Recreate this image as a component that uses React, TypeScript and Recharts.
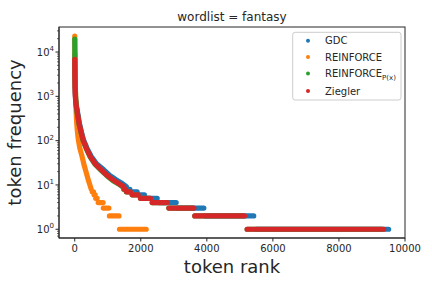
import React from 'react';
import { ComposedChart, Line, XAxis, YAxis } from 'recharts';

const title = 'wordlist = fantasy';
const xLabel = 'token rank';
const yLabel = 'token frequency';

const seriesNames = ['GDC', 'REINFORCE', 'REINFORCE', 'Ziegler'];
const seriesSubscripts = ['', '', 'P(x)', ''];
const seriesColors = ['#1f77b4', '#ff7f0e', '#2ca02c', '#d62728'];

const xTicks = [0, 2000, 4000, 6000, 8000, 10000];
const yMajorTicks = [1, 10, 100, 1000, 10000];
const yMajorExponents = ['0', '1', '2', '3', '4'];
const yMinorSteps = [2, 3, 4, 5, 6, 7, 8, 9];
const yMinorDecades = [0.1, 1, 10, 100, 1000, 10000];

// Steep head of each rank/frequency curve: [rank, frequency]
const gdcCurve: [number, number][] = [
  [1, 9000], [2, 5500], [5, 3000], [10, 1800], [20, 1050], [35, 750], [60, 560],
  [100, 380], [140, 250], [200, 160], [265, 104], [370, 68], [500, 44], [660, 30],
  [880, 22], [1060, 16.5], [1260, 13], [1440, 10.8], [1560, 9.2],
];
// Flat runs of equal frequency: [frequency, first rank, last rank]
const gdcRuns: [number, number, number][] = [
  [8, 1600, 1670], [7, 1720, 1890], [6, 1940, 2110], [5, 2160, 2497],
  [4, 2560, 3072], [3, 3120, 3910], [2, 3960, 5420], [1, 5500, 9505],
];

const reinforceCurve: [number, number][] = [
  [1, 23000], [2, 16000], [4, 11000], [6, 7000], [9, 4500], [15, 2200], [22, 1300],
  [30, 800], [42, 450], [60, 250], [80, 165], [110, 104], [160, 65], [222, 44],
  [290, 27], [353, 18.5], [410, 13], [460, 10], [500, 8],
];
const reinforceRuns: [number, number, number][] = [
  [7, 530, 570], [6, 585, 620], [5, 635, 680], [4, 710, 860],
  [3, 865, 1035], [2, 1050, 1340], [1, 1355, 2165],
];

const reinforcePxCurve: [number, number][] = [
  [1, 19600], [2, 16000], [3, 11700], [5, 8200], [8, 4400], [12, 2600], [18, 1500],
  [30, 850], [50, 560], [90, 360], [130, 240], [190, 155], [252, 100], [350, 66],
  [474, 42], [620, 29], [807, 21], [980, 16], [1160, 12.5], [1330, 10.5], [1450, 9],
];
const reinforcePxRuns: [number, number, number][] = [
  [8, 1480, 1520], [7, 1560, 1660], [6, 1740, 1900], [5, 1990, 2270],
  [4, 2345, 2780], [3, 2850, 3580], [2, 3635, 5100], [1, 5220, 9300],
];

const zieglerCurve: [number, number][] = [
  [1, 6800], [2, 5000], [3, 3200], [6, 2200], [10, 1500], [18, 1000], [30, 750],
  [50, 590], [90, 380], [130, 248], [190, 160], [252, 104], [350, 68], [474, 43.7],
  [620, 30], [807, 21.9], [980, 16.5], [1160, 13], [1330, 10.8], [1480, 9.2],
];
const zieglerRuns: [number, number, number][] = [
  [8, 1505, 1540], [7, 1570, 1685], [6, 1740, 1920], [5, 1990, 2295],
  [4, 2345, 2800], [3, 2850, 3607], [2, 3635, 5140], [1, 5220, 9355],
];

type Pt = { rank: number; freq: number | null };

function buildPoints(curve: [number, number][], runs: [number, number, number][]): Pt[] {
  const pts: Pt[] = curve.map(([rank, freq]) => ({ rank, freq }));
  for (const [freq, start, end] of runs) {
    pts.push({ rank: start, freq: null });
    pts.push({ rank: start, freq });
    pts.push({ rank: end, freq });
  }
  return pts;
}

const seriesData: Pt[][] = [
  buildPoints(gdcCurve, gdcRuns),
  buildPoints(reinforceCurve, reinforceRuns),
  buildPoints(reinforcePxCurve, reinforcePxRuns),
  buildPoints(zieglerCurve, zieglerRuns),
];

const yMinorTicks: number[] = [];
yMinorDecades.forEach((d) => yMinorSteps.forEach((s) => yMinorTicks.push(d * s)));
const yDomain: [number, number] = [0.635, 36700];
const yAllTicks = [...yMajorTicks, ...yMinorTicks.filter((v) => v > yDomain[0] && v < yDomain[1])];

const axisColor = '#262626';
const FONT = '"DejaVu Sans", sans-serif';

const YTick = (props: any) => {
  const { x, y, payload } = props;
  const idx = yMajorTicks.indexOf(payload.value);
  const major = idx >= 0;
  return (
    <g>
      <line x1={x - (major ? 3.5 : 2)} x2={x} y1={y} y2={y} stroke={axisColor} strokeWidth={major ? 1 : 0.7} />
      {major && (
        <text x={x - 5} y={y + 3.6} textAnchor="end" fontSize={10} fill={axisColor} fontFamily={FONT}>
          10<tspan dy={-4.5} fontSize={7}>{yMajorExponents[idx]}</tspan>
        </text>
      )}
    </g>
  );
};

const legendRowsY = [40.7, 57, 73.5, 91];

// plot frame (matches chart margins / axis sizes below)
const PLOT = { left: 59, top: 27, width: 346, height: 211 };

export default function App() {
  return (
    <div style={{ position: 'absolute', left: 0, top: 0, width: 432, height: 288, background: '#fff', fontFamily: FONT }}>
      <ComposedChart width={432} height={288} margin={{ top: 27, right: 27, bottom: 0, left: 0 }}>
        <XAxis
          type="number"
          dataKey="rank"
          domain={[-476, 10000]}
          allowDataOverflow
          ticks={xTicks}
          interval={0}
          height={50}
          tickSize={3.5}
          tickMargin={3}
          stroke={axisColor}
          tickLine={{ stroke: axisColor, strokeWidth: 1 }}
          axisLine={{ stroke: axisColor, strokeWidth: 1 }}
          tick={{ fontSize: 10, fill: axisColor, fontFamily: FONT }}
        />
        <YAxis
          type="number"
          scale="log"
          domain={yDomain}
          allowDataOverflow
          ticks={yAllTicks}
          interval={0}
          width={59}
          tickSize={0}
          tickMargin={0}
          tickLine={false}
          axisLine={{ stroke: axisColor, strokeWidth: 1 }}
          tick={<YTick />}
        />
        {seriesData.map((d, i) => (
          <Line
            key={i}
            data={d}
            dataKey="freq"
            name={seriesNames[i] + seriesSubscripts[i]}
            stroke={seriesColors[i]}
            strokeWidth={5.2}
            strokeLinecap="round"
            strokeLinejoin="round"
            dot={false}
            activeDot={false}
            connectNulls={false}
            isAnimationActive={false}
            type="linear"
          />
        ))}
      </ComposedChart>
      <svg width={432} height={288} style={{ position: 'absolute', left: 0, top: 0, pointerEvents: 'none' }}>
        <rect x={PLOT.left} y={PLOT.top} width={PLOT.width} height={PLOT.height} fill="none" stroke={axisColor} strokeWidth={1} />
        <text x={232} y={20.7} textAnchor="middle" fontSize={12} fill={axisColor} fontFamily={FONT}>{title}</text>
        <text x={232} y={273} textAnchor="middle" fontSize={18} fill={axisColor} fontFamily={FONT}>{xLabel}</text>
        <text x={20.8} y={132.5} textAnchor="middle" fontSize={18} fill={axisColor} fontFamily={FONT} transform="rotate(-90 20.8 132.5)">{yLabel}</text>
        <rect x={292.7} y={32.3} width={108.3} height={67.7} rx={2.5} fill="#fff" fillOpacity={0.8} stroke="#cccccc" strokeWidth={1} />
        {seriesNames.map((n, i) => (
          <g key={i}>
            <circle cx={308} cy={legendRowsY[i]} r={2} fill={seriesColors[i]} />
            <text x={325} y={legendRowsY[i] + 3.6} fontSize={10} fill={axisColor} fontFamily={FONT}>
              {n}
              {seriesSubscripts[i] && <tspan fontSize={7} dy={2.5}>{seriesSubscripts[i]}</tspan>}
            </text>
          </g>
        ))}
      </svg>
    </div>
  );
}
